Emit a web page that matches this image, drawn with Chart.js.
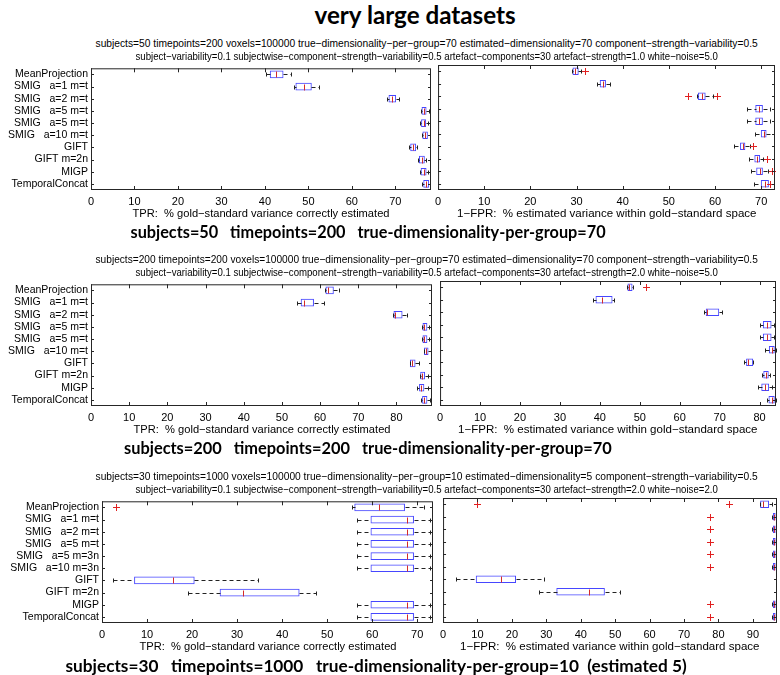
<!DOCTYPE html>
<html lang="en">
<head>
<meta charset="UTF-8">
<title>very large datasets</title>
<script src="https://cdn.jsdelivr.net/npm/chart.js@4.4.1/dist/chart.umd.min.js"></script>
<style>
  body { margin: 0; background: #fff; }
  #page { position: relative; width: 780px; height: 675px; overflow: hidden; font-family: 'Liberation Sans', Arial, sans-serif; }
  canvas { position: absolute; }
  .txt { position: absolute; white-space: pre; color: #000; line-height: 1; }
  .bold { font-family: Lato, 'Open Sans', sans-serif; font-weight: 700; }
</style>
</head>
<body>
<div id="page"></div>
<script>
// categories
const catsA = ['MeanProjection', 'SMIG   a=1 m=t', 'SMIG   a=2 m=t', 'SMIG   a=5 m=t', 'SMIG   a=5 m=t',
               'SMIG   a=10 m=t', 'GIFT', 'GIFT m=2n', 'MIGP', 'TemporalConcat'];
const catsB = ['MeanProjection', 'SMIG   a=1 m=t', 'SMIG   a=2 m=t', 'SMIG   a=5 m=t', 'SMIG   a=5 m=3n',
               'SMIG   a=10 m=3n', 'GIFT', 'GIFT m=2n', 'MIGP', 'TemporalConcat'];

// row 1 - TPR
const tpr1Lo  = [40.2, 46.6, 68.0, 75.9, 75.7, 76.1, 73.2, 75.3, 75.6, 76.2];
const tpr1Q1  = [41.2, 47.1, 68.5, 76.1, 76.0, 76.3, 73.5, 75.5, 75.9, 76.5];
const tpr1Med = [42.5, 49.0, 69.3, 76.6, 76.5, 76.9, 74.1, 76.1, 76.5, 77.1];
const tpr1Q3  = [44.2, 50.7, 70.1, 77.1, 77.0, 77.4, 74.7, 76.7, 77.1, 77.7];
const tpr1Hi  = [46.0, 52.4, 70.8, 77.8, 77.5, 77.9, 75.0, 77.0, 77.4, 78.0];
const tpr1Out = [];
// row 1 - 1-FPR
const fpr1Lo  = [29.1, 34.4, 56.1, 67.0, 67.0, 68.7, 64.1, 67.4, 67.8, 68.5];
const fpr1Q1  = [29.2, 35.1, 56.4, 68.8, 68.8, 70.0, 65.5, 68.6, 69.0, 70.0];
const fpr1Med = [29.7, 35.7, 57.1, 69.6, 69.6, 70.6, 66.0, 69.1, 69.7, 70.8];
const fpr1Q3  = [30.4, 36.3, 57.9, 70.3, 70.3, 71.1, 66.5, 69.7, 70.3, 71.6];
const fpr1Hi  = [31.0, 37.3, 59.5, 72.0, 72.0, 72.7, 67.5, 70.4, 71.5, 72.7];
const fpr1Out = [[0, 31.9], [2, 54.1], [2, 60.5], [6, 68.3], [7, 71.3], [8, 72.3], [9, 72.0]];

// row 2 - TPR
const tpr2Lo  = [61.3, 54.0, 79.1, 86.7, 86.7, 87.1, 83.5, 86.1, 85.5, 86.3];
const tpr2Q1  = [61.5, 55.0, 79.3, 86.9, 86.9, 87.3, 83.6, 86.3, 86.0, 86.8];
const tpr2Med = [62.1, 55.7, 79.6, 87.3, 87.3, 87.7, 84.0, 86.8, 86.5, 87.3];
const tpr2Q3  = [63.5, 58.3, 81.5, 88.0, 88.0, 88.3, 84.9, 87.4, 87.2, 88.0];
const tpr2Hi  = [64.9, 60.9, 82.8, 88.6, 88.6, 89.0, 85.9, 88.3, 88.2, 88.8];
const tpr2Out = [];
// row 2 - 1-FPR
const fpr2Lo  = [46.8, 38.3, 66.0, 80.0, 80.0, 81.4, 76.0, 80.5, 79.5, 81.8];
const fpr2Q1  = [47.0, 39.0, 66.6, 80.9, 80.9, 82.4, 76.7, 81.0, 80.5, 82.3];
const fpr2Med = [47.4, 40.6, 66.8, 81.9, 81.9, 83.0, 77.1, 81.5, 81.3, 83.0];
const fpr2Q3  = [48.1, 43.1, 69.8, 82.9, 82.9, 83.7, 78.3, 82.2, 82.3, 83.7];
const fpr2Hi  = [48.3, 43.5, 70.6, 83.5, 83.5, 84.0, 78.3, 82.6, 83.0, 84.0];
const fpr2Out = [[0, 51.5]];

// row 3 - TPR
const tpr3Lo  = [55.6, 56.6, 56.6, 56.6, 56.6, 56.6, 2.4, 19.2, 56.6, 56.6];
const tpr3Q1  = [56.1, 59.7, 59.7, 59.7, 59.7, 59.7, 7.2, 26.2, 59.7, 59.7];
const tpr3Med = [61.6, 67.8, 67.8, 67.8, 67.8, 67.8, 15.8, 31.4, 67.8, 67.8];
const tpr3Q3  = [67.2, 69.2, 69.2, 69.2, 69.2, 69.2, 20.5, 43.8, 69.2, 69.2];
const tpr3Hi  = [71.4, 72.8, 72.8, 72.8, 72.8, 72.8, 34.7, 47.5, 72.8, 72.8];
const tpr3Out = [[0, 3.2]];
// row 3 - 1-FPR
const fpr3Lo  = [92.0, 95.6, 95.6, 95.6, 95.6, 95.6, 3.8, 27.9, 95.6, 95.6];
const fpr3Q1  = [92.2, 95.9, 95.9, 95.9, 95.9, 95.9, 9.6, 33.0, 95.9, 95.9];
const fpr3Med = [93.0, 96.2, 96.2, 96.2, 96.2, 96.2, 16.9, 42.4, 96.2, 96.2];
const fpr3Q3  = [94.6, 96.5, 96.5, 96.5, 96.5, 96.5, 21.1, 46.9, 96.5, 96.5];
const fpr3Hi  = [95.6, 96.8, 96.8, 96.8, 96.8, 96.8, 29.2, 51.3, 96.8, 96.8];
const fpr3Out = [[0, 9.8], [0, 83.1], [1, 77.4], [2, 77.4], [3, 77.4], [4, 77.4], [5, 77.4], [8, 77.4], [9, 77.4]];

const headers = [
  ['subjects=50 timepoints=200 voxels=100000 true\u2212dimensionality\u2212per\u2212group=70 estimated\u2212dimensionality=70 component\u2212strength\u2212variability=0.5',
   'subject\u2212variability=0.1 subjectwise\u2212component\u2212strength\u2212variability=0.5 artefact\u2212components=30 artefact\u2212strength=1.0 white\u2212noise=5.0'],
  ['subjects=200 timepoints=200 voxels=100000 true\u2212dimensionality\u2212per\u2212group=70 estimated\u2212dimensionality=70 component\u2212strength\u2212variability=0.5',
   'subject\u2212variability=0.1 subjectwise\u2212component\u2212strength\u2212variability=0.5 artefact\u2212components=30 artefact\u2212strength=2.0 white\u2212noise=5.0'],
  ['subjects=30 timepoints=1000 voxels=100000 true\u2212dimensionality\u2212per\u2212group=10 estimated\u2212dimensionality=5 component\u2212strength\u2212variability=0.5',
   'subject\u2212variability=0.1 subjectwise\u2212component\u2212strength\u2212variability=0.5 artefact\u2212components=30 artefact\u2212strength=2.0 white\u2212noise=2.0']
];
const subtitles = [
  'subjects=50   timepoints=200   true-dimensionality-per-group=70',
  'subjects=200   timepoints=200   true-dimensionality-per-group=70',
  'subjects=30   timepoints=1000   true-dimensionality-per-group=10  (estimated 5)'
];
const xTitleTPR = 'TPR:  % gold\u2212standard variance correctly estimated';
const xTitleFPR = '1\u2212FPR:  % estimated variance within gold\u2212standard space';

const rowTops = [65, 281, 498];
const frameH = 125;

const panels = [
  { row: 0, left: 91,  right: 431, max: 78.2, cats: catsA, names: true,  lo: tpr1Lo, q1: tpr1Q1, med: tpr1Med, q3: tpr1Q3, hi: tpr1Hi, out: tpr1Out },
  { row: 0, left: 438, right: 775, max: 73,   cats: catsA, names: false, lo: fpr1Lo, q1: fpr1Q1, med: fpr1Med, q3: fpr1Q3, hi: fpr1Hi, out: fpr1Out },
  { row: 1, left: 91,  right: 432, max: 89.3, cats: catsA, names: true,  lo: tpr2Lo, q1: tpr2Q1, med: tpr2Med, q3: tpr2Q3, hi: tpr2Hi, out: tpr2Out },
  { row: 1, left: 440, right: 776, max: 84.1, cats: catsA, names: false, lo: fpr2Lo, q1: fpr2Q1, med: fpr2Med, q3: fpr2Q3, hi: fpr2Hi, out: fpr2Out },
  { row: 2, left: 102, right: 433, max: 73.5, cats: catsB, names: true,  lo: tpr3Lo, q1: tpr3Q1, med: tpr3Med, q3: tpr3Q3, hi: tpr3Hi, out: tpr3Out },
  { row: 2, left: 443, right: 777, max: 97,   cats: catsB, names: false, lo: fpr3Lo, q1: fpr3Q1, med: fpr3Med, q3: fpr3Q3, hi: fpr3Hi, out: fpr3Out }
];

const BOX_H = 7;
const page = document.getElementById('page');

// whiskers, caps, medians and outliers, placed with the chart's scales
const boxExtras = {
  id: 'boxExtras',
  afterDatasetsDraw(chart, args, o) {
    const { ctx, scales: { x, y } } = chart;
    const px = v => Math.round(x.getPixelForValue(v)) + 0.5;
    ctx.save();
    ctx.lineWidth = 1;
    o.lo.forEach((lo, i) => {
      const yc = Math.round(y.getPixelForValue(i)) + 0.5;
      // dashed whiskers
      ctx.strokeStyle = '#222';
      ctx.setLineDash([4, 3]);
      ctx.beginPath();
      ctx.moveTo(px(lo), yc); ctx.lineTo(px(o.q1[i]), yc);
      ctx.moveTo(px(o.q3[i]), yc); ctx.lineTo(px(o.hi[i]), yc);
      ctx.stroke();
      // caps
      ctx.setLineDash([]);
      ctx.beginPath();
      ctx.moveTo(px(lo), yc - 2); ctx.lineTo(px(lo), yc + 2);
      ctx.moveTo(px(o.hi[i]), yc - 2); ctx.lineTo(px(o.hi[i]), yc + 2);
      ctx.stroke();
      // median
      ctx.strokeStyle = '#d42a2a';
      ctx.beginPath();
      ctx.moveTo(px(o.med[i]), yc - BOX_H / 2 + 0.5);
      ctx.lineTo(px(o.med[i]), yc + BOX_H / 2 - 0.5);
      ctx.stroke();
    });
    // outliers as red +
    ctx.strokeStyle = '#e02020';
    o.out.forEach(([i, v]) => {
      const cx = px(v), cy = Math.round(y.getPixelForValue(i)) + 0.5;
      ctx.beginPath();
      ctx.moveTo(cx - 3.5, cy); ctx.lineTo(cx + 3.5, cy);
      ctx.moveTo(cx, cy - 3.5); ctx.lineTo(cx, cy + 3.5);
      ctx.stroke();
    });
    ctx.restore();
  }
};

// matlab style box frame with inward ticks
const frameTicks = {
  id: 'frameTicks',
  afterDraw(chart) {
    const { ctx, chartArea: a, scales: { x, y } } = chart;
    ctx.save();
    ctx.strokeStyle = '#262626';
    ctx.lineWidth = 1;
    ctx.strokeRect(a.left + 0.5, a.top + 0.5, a.right - a.left - 1, a.bottom - a.top - 1);
    ctx.beginPath();
    x.ticks.forEach(t => {
      const p = Math.round(x.getPixelForValue(t.value)) + 0.5;
      ctx.moveTo(p, a.bottom); ctx.lineTo(p, a.bottom - 4);
      ctx.moveTo(p, a.top); ctx.lineTo(p, a.top + 4);
    });
    y.ticks.forEach((t, i) => {
      const p = Math.round(y.getPixelForValue(i)) + 0.5;
      ctx.moveTo(a.left, p); ctx.lineTo(a.left + 3, p);
      ctx.moveTo(a.right, p); ctx.lineTo(a.right - 3, p);
    });
    ctx.stroke();
    ctx.restore();
  }
};

const PAD_T = 6, PAD_R = 6, X_H = 20;

panels.forEach(p => {
  const top = rowTops[p.row];
  const canvasLeft = p.names ? 0 : p.left - 8;
  const yWidth = p.left - canvasLeft;
  const w = p.right - canvasLeft + PAD_R;
  const h = PAD_T + frameH + X_H;
  const cv = document.createElement('canvas');
  cv.width = w; cv.height = h;
  cv.style.left = canvasLeft + 'px';
  cv.style.top = (top - PAD_T) + 'px';
  cv.style.width = w + 'px'; cv.style.height = h + 'px';
  page.appendChild(cv);

  new Chart(cv, {
    type: 'bar',
    data: {
      labels: p.cats,
      datasets: [{
        data: p.q1.map((v, i) => [v, p.q3[i]]),
        backgroundColor: '#ffffff',
        borderColor: '#4646ff',
        borderWidth: 1,
        borderSkipped: false,
        barThickness: BOX_H
      }]
    },
    options: {
      responsive: false,
      animation: false,
      indexAxis: 'y',
      layout: { padding: { top: PAD_T, right: PAD_R, left: 0, bottom: 0 } },
      plugins: {
        legend: { display: false },
        tooltip: { enabled: false },
        boxExtras: { lo: p.lo, q1: p.q1, med: p.med, q3: p.q3, hi: p.hi, out: p.out }
      },
      scales: {
        x: {
          type: 'linear', min: 0, max: p.max,
          grid: { display: false, drawTicks: false },
          border: { display: false },
          ticks: { stepSize: 10, includeBounds: false, padding: 5, maxRotation: 0, color: '#000',
                   font: { family: 'Liberation Sans', size: 11 } },
          afterFit: s => { s.height = X_H; }
        },
        y: {
          type: 'category',
          grid: { display: false, drawTicks: false },
          border: { display: false },
          ticks: { display: p.names, padding: 3, autoSkip: false, color: '#000',
                   font: { family: 'Liberation Sans', size: 10.5 } },
          afterFit: s => { s.width = yWidth; }
        }
      }
    },
    plugins: [boxExtras, frameTicks]
  });
});

// text placed around the panels
function addText(str, cx, cy, size, width, bold) {
  const el = document.createElement('div');
  el.className = 'txt' + (bold ? ' bold' : '');
  el.textContent = str;
  el.style.fontSize = size + 'px';
  page.appendChild(el);
  if (bold) {
    el.style.fontSize = (size * width / el.offsetWidth) + 'px';
  } else {
    el.style.transform = 'scaleX(' + (width / el.offsetWidth) + ')';
  }
  el.style.left = (cx - el.offsetWidth / 2) + 'px';
  el.style.top = (cy - el.offsetHeight / 2) + 'px';
}

addText('very large datasets', 415, 15, 20, 201, true);
rowTops.forEach((t, r) => {
  addText(headers[r][0], 426, t - 22, 11, 662);
  addText(headers[r][1], 426, t - 9, 11, 582);
  const bottom = t + frameH;
  const lp = panels[r * 2], rp = panels[r * 2 + 1];
  addText(xTitleTPR, (lp.left + lp.right) / 2, bottom + 23, 11, 257);
  addText(xTitleFPR, (rp.left + rp.right) / 2, bottom + 23, 11, 300);
  addText(subtitles[r], [368, 368, 376][r], bottom + 42, 17, [476, 488, 622][r], true);
});
</script>
</body>
</html>
